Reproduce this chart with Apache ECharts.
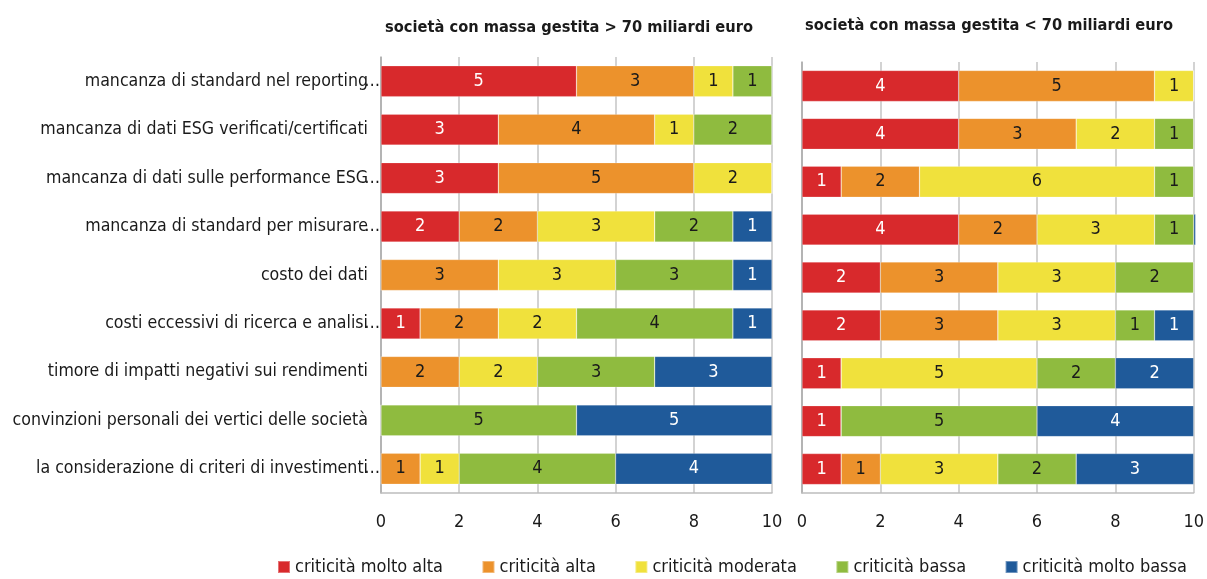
<!DOCTYPE html>
<html>
<head>
<meta charset="utf-8">
<script src="https://cdn.jsdelivr.net/npm/echarts@6/dist/echarts.min.js"></script>
<style>
  html, body { margin: 0; padding: 0; background: #fff; }
  #chart { width: 1207px; height: 579px; }
</style>
</head>
<body>
<div id="chart"></div>
<script>
const categories = [
  'mancanza di standard nel reporting…',
  'mancanza di dati ESG verificati/certificati',
  'mancanza di dati sulle performance ESG…',
  'mancanza di standard per misurare…',
  'costo dei dati',
  'costi eccessivi di ricerca e analisi…',
  'timore di impatti negativi sui rendimenti',
  'convinzioni personali dei vertici delle società',
  'la considerazione di criteri di investimenti…'
]
const levels = ['criticità molto alta', 'criticità alta', 'criticità moderata', 'criticità bassa', 'criticità molto bassa']
const colors = ['#D8292C', '#EC922C', '#F0E13C', '#8FBB3F', '#1F5A9A']
const labelColors = ['#fff', '#1a1a1a', '#1a1a1a', '#1a1a1a', '#fff']
const xTicks = [0, 2, 4, 6, 8, 10]
const titles = ['società con massa gestita > 70 miliardi euro', 'società con massa gestita < 70 miliardi euro']

// società > 70 miliardi
const bigMoltoAlta = [5, 3, 3, 2, 0, 1, 0, 0, 0]
const bigAlta = [3, 4, 5, 2, 3, 2, 2, 0, 1]
const bigModerata = [1, 1, 2, 3, 3, 2, 2, 0, 1]
const bigBassa = [1, 2, 0, 2, 3, 4, 3, 5, 4]
const bigMoltoBassa = [0, 0, 0, 1, 1, 1, 3, 5, 4]

// società < 70 miliardi
const smallMoltoAlta = [4, 4, 1, 4, 2, 2, 1, 1, 1]
const smallAlta = [5, 3, 2, 2, 3, 3, 0, 0, 1]
const smallModerata = [1, 2, 6, 3, 3, 3, 5, 0, 3]
const smallBassa = [0, 1, 1, 1, 2, 1, 2, 5, 2]
const smallMoltoBassa = [0, 0, 0, 0.05, 0, 1, 2, 4, 3]

const bigSeries = [bigMoltoAlta, bigAlta, bigModerata, bigBassa, bigMoltoBassa]
const smallSeries = [smallMoltoAlta, smallAlta, smallModerata, smallBassa, smallMoltoBassa]

const FONT = "'Liberation Sans Narrow', 'DejaVu Sans Condensed', 'Roboto', sans-serif"
const LBL = 17.6

function xAxis(gridIndex) {
  return {
    type: 'value', gridIndex, min: 0, max: 10, interval: 2,
    axisLine: { show: true, lineStyle: { color: '#bdbdbd', width: 1.5 } },
    axisTick: { show: false },
    splitLine: { show: true, lineStyle: { color: '#c4c4c4', width: 1.5 } },
    axisLabel: { margin: 20, fontSize: 18, color: '#1a1a1a', fontFamily: FONT,
      formatter: v => xTicks.includes(v) ? String(v) : '' }
  }
}

function yAxis(gridIndex, showLabels) {
  return {
    type: 'category', gridIndex, data: categories, inverse: true,
    axisLine: { show: true, lineStyle: { color: '#aaaaaa', width: 1.5 } },
    axisTick: { show: false },
    axisLabel: {
      show: showLabels, margin: 1, fontSize: LBL, color: '#1a1a1a', fontFamily: FONT,
      // the ellipsis hangs into the gap kept free for it, as in the original
      formatter: v => v.endsWith('…') ? '{t|' + v.slice(0, -1) + '}{e|…}' : '{t|' + v + '}{s| }',
      rich: {
        t: { fontSize: LBL, color: '#1a1a1a', fontFamily: FONT },
        e: { fontSize: LBL, color: '#1a1a1a', fontFamily: FONT, width: 12 },
        s: { fontSize: LBL, fontFamily: FONT, width: 12 }
      }
    }
  }
}

function makeSeries(values, idx, panel) {
  return values.map((data, i) => ({
    name: levels[i], type: 'bar', stack: 'p' + panel,
    xAxisIndex: idx, yAxisIndex: idx,
    barWidth: 31, clip: false,
    itemStyle: { color: colors[i], borderColor: 'rgba(255,255,255,0.35)', borderWidth: 0.6 },
    label: {
      show: true, position: 'inside', fontSize: 18, fontFamily: FONT, color: labelColors[i],
      formatter: p => p.value >= 0.5 ? String(p.value) : ''
    },
    data
  }))
}

const chart = echarts.init(document.getElementById('chart'))
chart.setOption({
  animation: false,
  title: [
    { text: titles[0], left: 564, top: 15, textAlign: 'center',
      textStyle: { fontSize: 16.3, fontWeight: 'bold', color: '#1a1a1a', fontFamily: FONT } },
    { text: titles[1], left: 984, top: 13, textAlign: 'center',
      textStyle: { fontSize: 16.3, fontWeight: 'bold', color: '#1a1a1a', fontFamily: FONT } }
  ],
  legend: {
    data: levels, left: 277, top: 558, padding: 0, itemWidth: 12, itemHeight: 12, itemGap: 38.5,
    icon: 'rect',
    textStyle: { fontSize: 18, color: '#1a1a1a', fontFamily: FONT }
  },
  grid: [
    { left: 381, right: 1207 - 772, top: 57, bottom: 86 },
    { left: 802, right: 1207 - 1196, top: 62, bottom: 86 }
  ],
  xAxis: [xAxis(0), xAxis(1)],
  yAxis: [yAxis(0, true), yAxis(1, false)],
  series: [...makeSeries(bigSeries, 0, 'big'), ...makeSeries(smallSeries, 1, 'small')]
})
</script>
</body>
</html>
